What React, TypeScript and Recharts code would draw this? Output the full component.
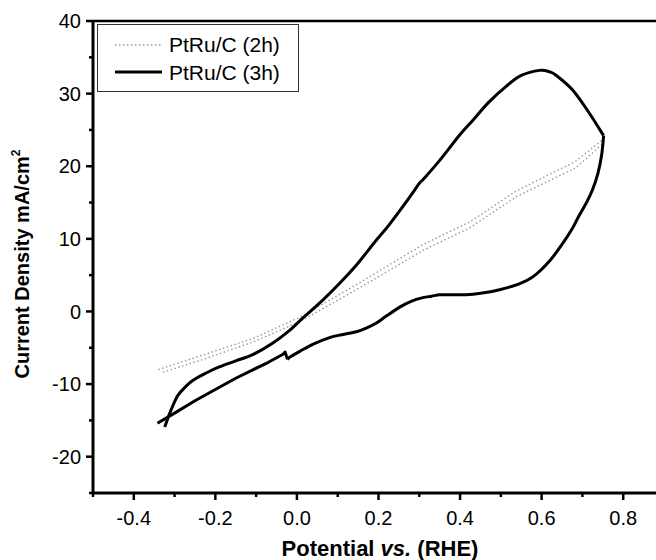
import { LineChart, Line, XAxis, YAxis, ReferenceLine } from 'recharts';

// PtRu/C (3h) cyclic voltammogram, forward (anodic) sweep
const cv3hForwardX = [-0.324, -0.311, -0.298, -0.287, -0.258, -0.22, -0.189, -0.15, -0.107, -0.058, -0.018, 0.007, 0.064, 0.1, 0.146, 0.19, 0.227, 0.272, 0.301, 0.31, 0.35, 0.399, 0.431, 0.47, 0.513, 0.55, 0.595, 0.62, 0.636, 0.676, 0.717, 0.752];
const cv3hForwardY = [-15.9, -13.9, -12.2, -11.2, -9.6, -8.4, -7.6, -6.8, -5.9, -4.3, -2.6, -1.3, 1.6, 3.6, 6.4, 9.5, 12.0, 15.4, 17.7, 18.2, 20.8, 24.3, 26.3, 28.8, 31.0, 32.5, 33.2, 33.0, 32.5, 30.5, 27.3, 24.2];

// PtRu/C (3h) reverse (cathodic) sweep, down to the small step near 0 V
const cv3hReverseX = [0.752, 0.747, 0.738, 0.725, 0.71, 0.69, 0.676, 0.652, 0.62, 0.579, 0.54, 0.497, 0.45, 0.415, 0.374, 0.35, 0.33, 0.309, 0.28, 0.252, 0.22, 0.195, 0.17, 0.146, 0.11, 0.08, 0.04, 0.007, -0.018, -0.023];
const cv3hReverseY = [24.2, 21.5, 19.0, 16.8, 15.0, 13.0, 11.5, 9.4, 7.0, 4.8, 3.7, 3.0, 2.5, 2.3, 2.3, 2.3, 2.1, 1.9, 1.4, 0.6, -0.6, -1.6, -2.3, -2.8, -3.2, -3.6, -4.5, -5.5, -6.3, -6.6];

// PtRu/C (3h) reverse sweep tail after the step
const cv3hTailX = [-0.023, -0.029, -0.034, -0.07, -0.107, -0.15, -0.189, -0.25, -0.3, -0.342];
const cv3hTailY = [-6.6, -5.6, -5.9, -7.0, -8.0, -9.2, -10.4, -12.3, -14.0, -15.4];

// PtRu/C (2h): two nearly overlapping sweeps
const cv2hUpperX = [-0.34, -0.23, -0.107, 0.007, 0.146, 0.309, 0.423, 0.538, 0.684, 0.748];
const cv2hUpperY = [-8.0, -6.0, -3.7, -0.8, 3.7, 9.2, 12.3, 16.6, 20.7, 23.6];
const cv2hLowerX = [0.748, 0.684, 0.538, 0.423, 0.309, 0.146, 0.007, -0.107, -0.23, -0.33];
const cv2hLowerY = [23.0, 19.8, 15.8, 11.5, 8.4, 3.0, -1.4, -4.2, -6.6, -8.4];

const xTicks = [-0.5, -0.4, -0.3, -0.2, -0.1, 0.0, 0.1, 0.2, 0.3, 0.4, 0.5, 0.6, 0.7, 0.8, 0.9];
const xMajor = ['-0.4', '-0.2', '0.0', '0.2', '0.4', '0.6', '0.8'];
const yTicks = [-25, -20, -15, -10, -5, 0, 5, 10, 15, 20, 25, 30, 35, 40];
const yMajor = [-20, -10, 0, 10, 20, 30, 40];

const zip = (xs: number[], ys: number[]) => xs.map((x, i) => ({ x, y: ys[i] }));

const data3hFwd = zip(cv3hForwardX, cv3hForwardY);
const data3hRev = zip(cv3hReverseX, cv3hReverseY);
const data3hTail = zip(cv3hTailX, cv3hTailY);
const data2hA = zip(cv2hUpperX, cv2hUpperY);
const data2hB = zip(cv2hLowerX, cv2hLowerY);

const FONT = "Arial, 'Liberation Sans', sans-serif";

// Catmull-Rom curve for d3's line generator (loops are fine, unlike monotone)
const smooth = (context: any) => {
  let pts: number[][] = [];
  return {
    areaStart() {},
    areaEnd() {},
    lineStart() {
      pts = [];
    },
    point(x: number, y: number) {
      pts.push([+x, +y]);
    },
    lineEnd() {
      if (!pts.length) return;
      context.moveTo(pts[0][0], pts[0][1]);
      for (let i = 0; i < pts.length - 1; i++) {
        const p0 = pts[i - 1] || pts[i];
        const p1 = pts[i];
        const p2 = pts[i + 1];
        const p3 = pts[i + 2] || p2;
        context.bezierCurveTo(
          p1[0] + (p2[0] - p0[0]) / 6, p1[1] + (p2[1] - p0[1]) / 6,
          p2[0] - (p3[0] - p1[0]) / 6, p2[1] - (p3[1] - p1[1]) / 6,
          p2[0], p2[1]
        );
      }
    },
  };
};

const XTick = (props: any) => {
  const { x, y, payload } = props;
  const label = Number(payload.value).toFixed(1);
  const major = xMajor.includes(label);
  return (
    <g>
      <line x1={x} x2={x} y1={y} y2={y + (major ? 7 : 4)} stroke="#000" strokeWidth={2.5} />
      {major && (
        <text x={x} y={y + 18} dy="0.71em" textAnchor="middle" fontSize={20} fontFamily={FONT} fill="#000">
          {label}
        </text>
      )}
    </g>
  );
};

const YTick = (props: any) => {
  const { x, y, payload } = props;
  const major = yMajor.includes(payload.value);
  return (
    <g>
      <line x1={x} x2={x - (major ? 7 : 4)} y1={y} y2={y} stroke="#000" strokeWidth={2.5} />
      {major && (
        <text x={x - 12} y={y} dy="0.355em" textAnchor="end" fontSize={20} fontFamily={FONT} fill="#000">
          {payload.value}
        </text>
      )}
    </g>
  );
};

export default function App() {
  return (
    <div style={{ position: 'absolute', left: 0, top: 0, width: 656, height: 560, overflow: 'hidden', background: '#fff' }}>
      <LineChart width={672} height={560} margin={{ top: 21, right: 8, bottom: 0, left: 0 }}>
        <XAxis
          type="number"
          dataKey="x"
          domain={[-0.5, 0.9]}
          ticks={xTicks}
          interval={0}
          allowDataOverflow
          height={67}
          tickSize={0}
          tickMargin={0}
          tickLine={false}
          stroke="#000"
          axisLine={{ stroke: '#000', strokeWidth: 3 }}
          tick={<XTick />}
        />
        <YAxis
          type="number"
          dataKey="y"
          domain={[-25, 40]}
          ticks={yTicks}
          interval={0}
          allowDataOverflow
          width={93}
          tickSize={0}
          tickMargin={0}
          tickLine={false}
          stroke="#000"
          axisLine={{ stroke: '#000', strokeWidth: 3 }}
          tick={<YTick />}
        />
        <ReferenceLine y={40} stroke="#000" strokeWidth={2.5} ifOverflow="visible" />
        <Line data={data2hA} dataKey="y" type="linear" stroke="#9a9a9a" strokeWidth={1.4} strokeDasharray="1.5 2.5" dot={false} isAnimationActive={false} />
        <Line data={data2hB} dataKey="y" type="linear" stroke="#9a9a9a" strokeWidth={1.4} strokeDasharray="1.5 2.5" dot={false} isAnimationActive={false} />
        <Line data={data3hFwd} dataKey="y" type={smooth as any} stroke="#000" strokeWidth={3} strokeLinejoin="round" dot={false} isAnimationActive={false} />
        <Line data={data3hRev} dataKey="y" type={smooth as any} stroke="#000" strokeWidth={3} strokeLinejoin="round" dot={false} isAnimationActive={false} />
        <Line data={data3hTail} dataKey="y" type="linear" stroke="#000" strokeWidth={3} strokeLinejoin="round" dot={false} isAnimationActive={false} />
      </LineChart>

      <svg width={656} height={560} style={{ position: 'absolute', left: 0, top: 0, pointerEvents: 'none' }}>
        <rect x={97.5} y={24.5} width={201} height={67} fill="#fff" stroke="#333" strokeWidth={1} />
        <line x1={115} x2={162} y1={45} y2={45} stroke="#9a9a9a" strokeWidth={1.4} strokeDasharray="1.5 2.5" />
        <text x={169} y={52} fontSize={21} fontFamily={FONT} fill="#000">PtRu/C (2h)</text>
        <line x1={115} x2={162} y1={72} y2={72} stroke="#000" strokeWidth={3} />
        <text x={169} y={80} fontSize={21} fontFamily={FONT} fill="#000">PtRu/C (3h)</text>

        <text x={380} y={556} textAnchor="middle" fontSize={22} fontWeight="bold" fontFamily={FONT} fill="#000">
          Potential <tspan fontStyle="italic">vs.</tspan> (RHE)
        </text>
        <text transform="rotate(-90)" x={-264} y={29} textAnchor="middle" fontSize={20} fontWeight="bold" fontFamily={FONT} fill="#000">
          Current Density mA/cm<tspan fontSize={12} dy={-9}>2</tspan>
        </text>
      </svg>
    </div>
  );
}
